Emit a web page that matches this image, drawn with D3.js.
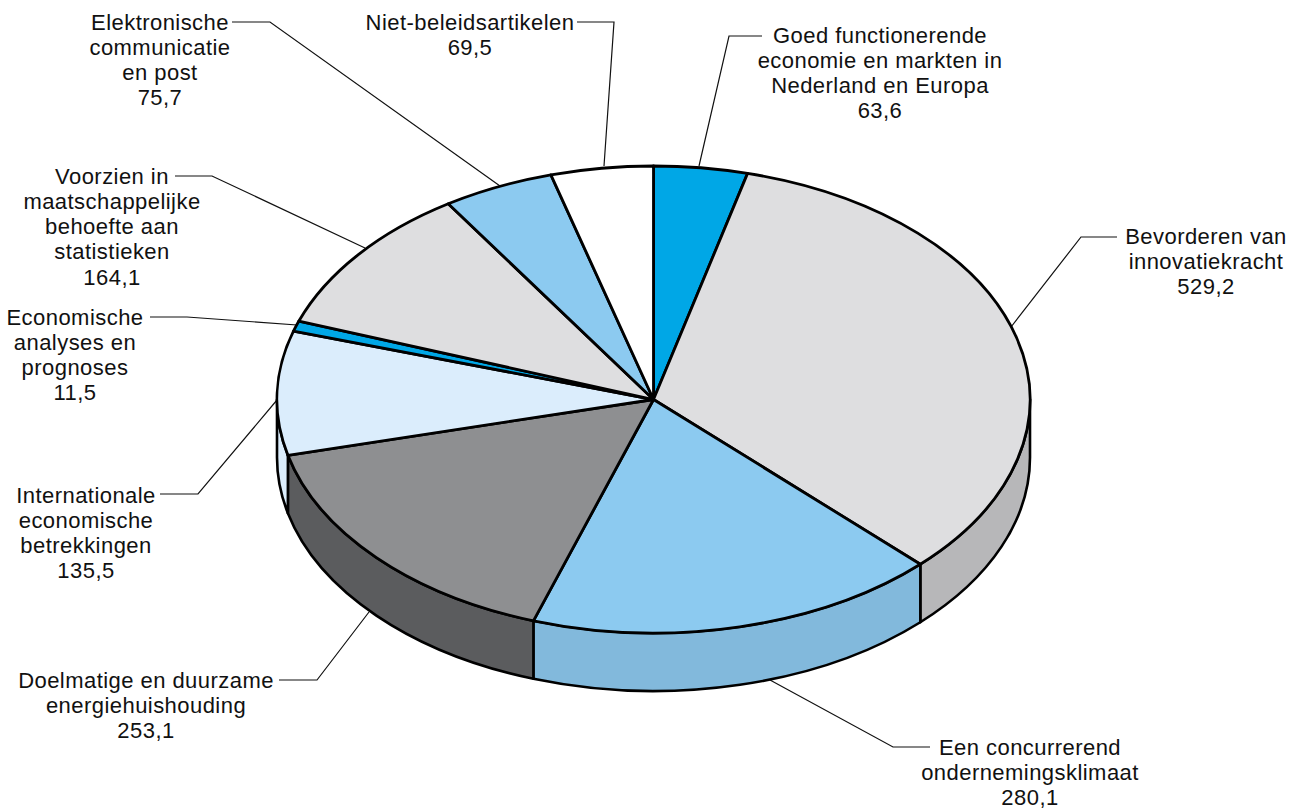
<!DOCTYPE html>
<html>
<head>
<meta charset="utf-8">
<script src="https://cdn.jsdelivr.net/npm/d3@7"></script>
<style>
  body { margin: 0; background: #fff; }
  text { font-family: "Liberation Sans", sans-serif; font-size: 22px; letter-spacing: 0.45px; fill: #111; }
</style>
</head>
<body>
<div class="chart"></div>
<script>
"use strict"
// values, clockwise from 12 o'clock
const categories = [
  ["Goed functionerende", "economie en markten in", "Nederland en Europa"],
  ["Bevorderen van", "innovatiekracht"],
  ["Een concurrerend", "ondernemingsklimaat"],
  ["Doelmatige en duurzame", "energiehuishouding"],
  ["Internationale", "economische", "betrekkingen"],
  ["Economische", "analyses en", "prognoses"],
  ["Voorzien in", "maatschappelijke", "behoefte aan", "statistieken"],
  ["Elektronische", "communicatie", "en post"],
  ["Niet-beleidsartikelen"]
];
const values = [63.6, 529.2, 280.1, 253.1, 135.5, 11.5, 164.1, 75.7, 69.5];
const topColors = ["#00a7e6", "#dedee0", "#8ccaf0", "#8e8f91", "#dbedfc", "#00a7e6", "#dedee0", "#8ccaf0", "#ffffff"];
const sideColors = ["#00a7e6", "#b7b7b9", "#82b9dc", "#5b5c5e", "#dbedfc", "#00a7e6", "#dedee0", "#8ccaf0", "#ffffff"];

// label layout: centre x, y of first line
const labelX = [880, 1206, 1030, 146, 86, 75, 112, 160, 470];
const labelY = [35, 236, 747, 680, 495, 317, 176, 22, 22];
const lineHeight = 25.2;
// leader lines
const leaders = [
  [[762, 36], [729, 36], [699, 166]],
  [[1117, 237], [1081, 237], [1011, 327]],
  [[930, 747], [893, 747], [770, 680]],
  [[279, 680], [317, 680], [369, 612]],
  [[160, 494], [198, 494], [277, 400]],
  [[150, 317], [187, 317], [297, 325]],
  [[175, 176], [212, 176], [365, 248]],
  [[232, 22], [270, 22], [500, 186]],
  [[577, 22], [614, 22], [604, 166]]
];

const cx = 653.5, cy = 399.5, rx = 376.5, ry = 233.5, depth = 58;

let s = d3.select(".chart")
  .append("svg")
  .attr("width", 1299)
  .attr("height", 810)
  .style("display", "block");

const fmt = v => String(v).replace(".", ",");

let arcs = d3.pie().value(d => d).sort(null)(values);
arcs.forEach((d, i) => d.index = i);

// point on the rim, angle 0 at the top going clockwise
function rim(a, dy) {
  return [cx + rx * Math.sin(a), cy - ry * Math.cos(a) + (dy || 0)];
}

// leader lines go below the pie
s.append("g").selectAll("path")
  .data(leaders)
  .enter()
  .append("path")
  .attr("d", d3.line())
  .attr("fill", "none")
  .attr("stroke", "#111")
  .attr("stroke-width", 1.2);

// side walls, only the front half of the rim is visible
let front = arcs.filter(d => d.endAngle > Math.PI / 2 && d.startAngle < Math.PI * 1.5);

s.append("g").selectAll("path")
  .data(front)
  .enter()
  .append("path")
  .attr("fill", d => sideColors[d.index])
  .attr("stroke", "#000")
  .attr("stroke-width", 2.6)
  .attr("stroke-linejoin", "round")
  .attr("d", function (d) {
    let a0 = Math.max(d.startAngle, Math.PI / 2);
    let a1 = Math.min(d.endAngle, Math.PI * 1.5);
    let p0 = rim(a0), p1 = rim(a1), p2 = rim(a1, depth), p3 = rim(a0, depth);
    return "M" + p0 + "A" + rx + "," + ry + " 0 0 1 " + p1 + "L" + p2 +
      "A" + rx + "," + ry + " 0 0 0 " + p3 + "Z";
  });

// top face: d3.arc squashed into an ellipse
let arc = d3.arc().innerRadius(0).outerRadius(rx);

s.append("g")
  .attr("transform", "translate(" + cx + "," + cy + ") scale(1," + (ry / rx) + ")")
  .selectAll("path")
  .data(arcs)
  .enter()
  .append("path")
  .attr("d", arc)
  .attr("fill", d => topColors[d.index])
  .attr("stroke", "#000")
  .attr("stroke-width", 2.8)
  .attr("stroke-linejoin", "round")
  .attr("vector-effect", "non-scaling-stroke");

// labels
let labels = s.append("g").selectAll("text")
  .data(categories)
  .enter()
  .append("text")
  .attr("text-anchor", "middle")
  .attr("x", (d, i) => labelX[i])
  .attr("y", (d, i) => labelY[i]);

labels.selectAll("tspan")
  .data((d, i) => d.concat(fmt(values[i])).map(t => ({ t: t, x: labelX[i] })))
  .enter()
  .append("tspan")
  .attr("x", d => d.x)
  .attr("dy", (d, i) => i == 0 ? "0.35em" : lineHeight)
  .text(d => d.t);
</script>
</body>
</html>
